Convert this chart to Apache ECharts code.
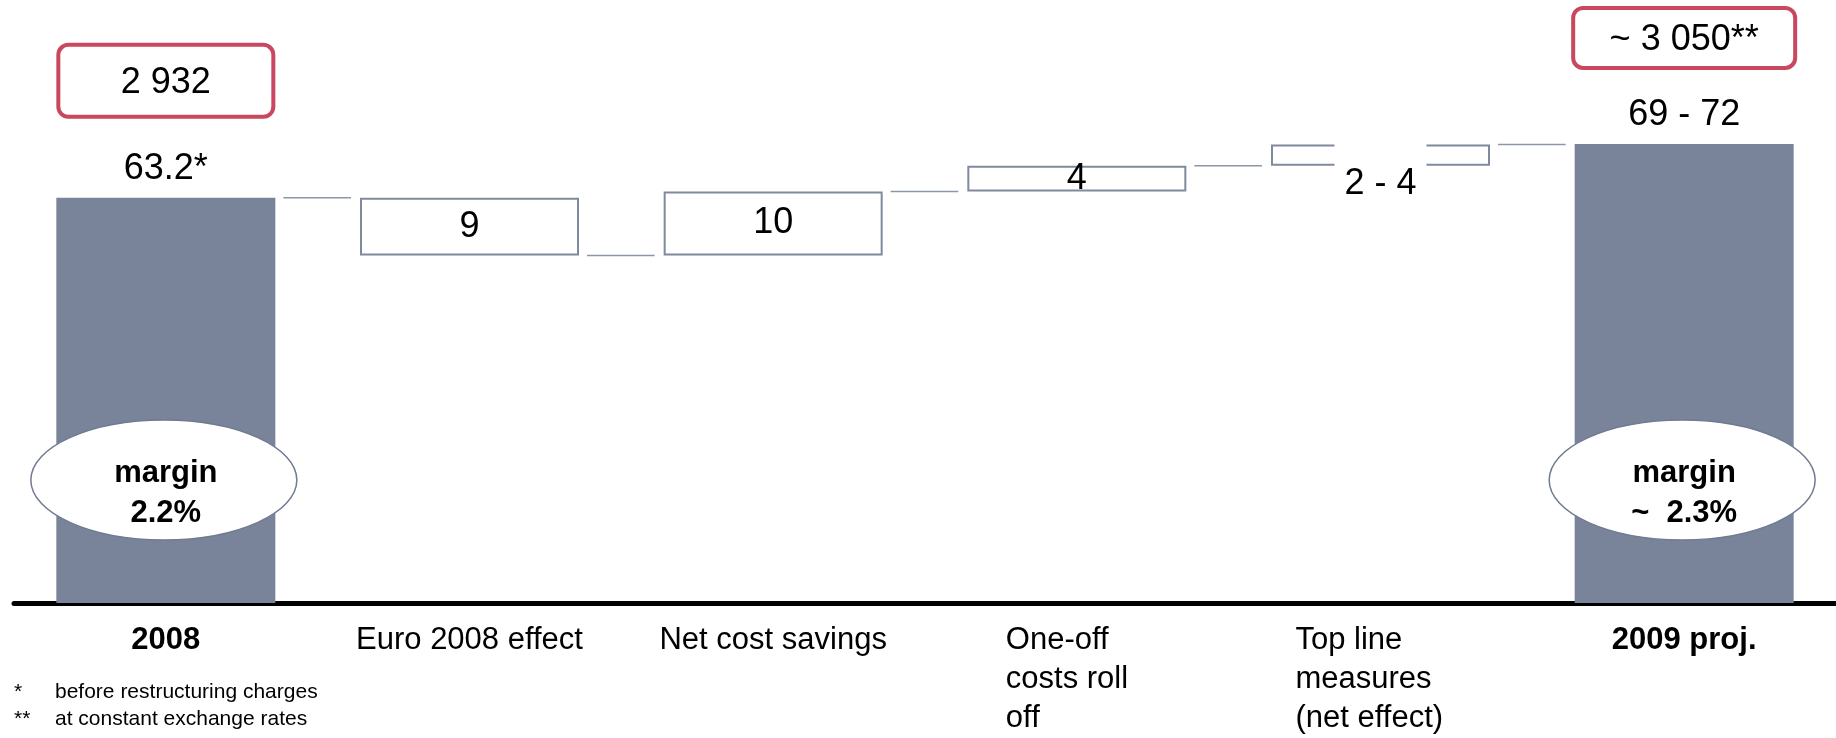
<!DOCTYPE html>
<html>
<head>
<meta charset="utf-8">
<title>EBIT bridge 2008 - 2009</title>
<script src="https://cdn.jsdelivr.net/npm/echarts@6/dist/echarts.min.js"></script>
<style>
    html, body { margin: 0; padding: 0; background: #fff; }
    #mychart { width: 1836px; height: 738px; }
</style>
</head>
<body>
<div id="mychart"></div>
<script>
// 数据
var categories = ['2008', 'Euro 2008 effect', 'Net cost savings', 'One-off\ncosts roll\noff', 'Top line\nmeasures\n(net effect)', '2009 proj.'];
var totals = [63.2, '-', '-', '-', '-', 71.6];
var totalLabels = ['63.2*', '', '', '', '', '69 - 72'];
var deltas = ['-', -9, 10, 4, 3.3, '-'];
var deltaLabels = ['', '9', '10', '4', '2 - 4', ''];
var revenue = ['2 932', '', '', '', '', '~ 3 050**'];
var margins = ['margin\n2.2%', '', '', '', '', 'margin\n~  2.3%'];
var footMarks = ['*', '**'];
var footnotes = ['before restructuring charges', 'at constant exchange rates'];

var FONT = '"Liberation Sans", Arial, sans-serif';
var BAR_W = 219;
var GREY = '#79849a';
var LINE = '#7f8a9d';
var PINK = '#c9475f';

// 瀑布图：透明底座 + 变动量
var baseData = [];
var deltaData = [];
var connectors = [];
var rangeData = [];
var level = totals[0];
connectors.push([0, level]);
for (var i = 0; i < categories.length; i++) {
    if (deltas[i] === '-') {
        baseData.push('-');
        deltaData.push('-');
        continue;
    }
    var next = level + deltas[i];
    baseData.push(Math.min(level, next));
    var item = { value: Math.abs(deltas[i]) };
    if (deltaLabels[i].indexOf('-') > -1) {
        // 区间标签单独画，压在框的下沿
        item.label = { show: false };
        rangeData.push([i, Math.min(level, next), Math.max(level, next)]);
    }
    deltaData.push(item);
    level = next;
    if (i < categories.length - 2) connectors.push([i, level]);
}
connectors.push([categories.length - 2, level]);

var annotData = [];
for (var k = 0; k < categories.length; k++) {
    if (revenue[k]) annotData.push([k, totals[k]]);
}

var myChart = echarts.init(document.getElementById('mychart'));
myChart.setOption({
    animation: false,
    grid: {
        left: 14,
        right: 0,
        top: 26,
        bottom: 129
    },
    xAxis: {
        type: 'category',
        data: categories,
        axisTick: { show: false },
        axisLine: { lineStyle: { color: '#000', width: 5 } },
        axisLabel: {
            interval: 0,
            margin: 18,
            color: '#000',
            fontFamily: FONT,
            fontSize: 31,
            lineHeight: 39,
            formatter: function (value, idx) {
                if (idx === 0 || idx === categories.length - 1) {
                    return '{b|' + value + '}';
                }
                var lines = value.split('\n');
                if (lines.length > 1) {
                    return lines.map(function (l) { return '{w' + idx + '|' + l + '}'; }).join('\n');
                }
                return value;
            },
            rich: {
                b: { fontWeight: 'bold', fontSize: 31, lineHeight: 39, fontFamily: FONT, color: '#000' },
                w3: { width: 142, align: 'left', fontSize: 31, lineHeight: 39, fontFamily: FONT, color: '#000' },
                w4: { width: 170, align: 'left', fontSize: 31, lineHeight: 39, fontFamily: FONT, color: '#000' }
            }
        }
    },
    yAxis: {
        type: 'value',
        show: false,
        min: 0,
        max: 90
    },
    series: [
        {
            name: 'base',
            type: 'bar',
            stack: 'w',
            barWidth: BAR_W,
            itemStyle: { color: 'transparent' },
            data: baseData
        },
        {
            name: 'delta',
            type: 'bar',
            stack: 'w',
            barWidth: BAR_W,
            itemStyle: { color: '#fff', borderColor: LINE, borderWidth: 2 },
            label: {
                show: true,
                position: 'inside',
                color: '#000',
                fontFamily: FONT,
                fontSize: 36,
                lineHeight: 30,
                formatter: function (p) { return deltaLabels[p.dataIndex]; }
            },
            data: deltaData
        },
        {
            name: 'total',
            type: 'bar',
            stack: 'w',
            barWidth: BAR_W,
            itemStyle: { color: GREY },
            label: {
                show: true,
                position: 'top',
                distance: 11,
                color: '#000',
                fontFamily: FONT,
                fontSize: 36,
                lineHeight: 36,
                formatter: function (p) { return totalLabels[p.dataIndex]; }
            },
            data: totals
        },
        {
            // 连接线
            name: 'connector',
            type: 'custom',
            silent: true,
            data: connectors,
            renderItem: function (params, api) {
                var p1 = api.coord([api.value(0), api.value(1)]);
                var p2 = api.coord([api.value(0) + 1, api.value(1)]);
                return {
                    type: 'line',
                    shape: { x1: p1[0] + BAR_W / 2 + 8, y1: p1[1], x2: p2[0] - BAR_W / 2 - 9, y2: p1[1] },
                    style: { stroke: '#8d96a8', lineWidth: 1.5 }
                };
            }
        },
        {
            // 区间标签（白底遮住框线）
            name: 'range',
            type: 'custom',
            silent: true,
            z: 5,
            data: rangeData,
            renderItem: function (params, api) {
                var idx = api.value(0);
                var lo = api.coord([idx, api.value(1)]);
                var hi = api.coord([idx, api.value(2)]);
                return {
                    type: 'group',
                    children: [
                        {
                            type: 'rect',
                            shape: { x: lo[0] - 46, y: hi[1] - 4, width: 92, height: lo[1] - hi[1] + 36 },
                            style: { fill: '#fff' }
                        },
                        {
                            type: 'text',
                            style: {
                                text: deltaLabels[idx],
                                x: lo[0], y: lo[1] + 18,
                                align: 'center', verticalAlign: 'middle',
                                fill: '#000', font: '36px ' + FONT
                            }
                        }
                    ]
                };
            }
        },
        {
            // 营收框 + 利润率椭圆
            name: 'annot',
            type: 'custom',
            silent: true,
            z: 10,
            data: annotData,
            renderItem: function (params, api) {
                var idx = api.value(0);
                var top = api.coord([idx, api.value(1)]);
                var zero = api.coord([idx, 0]);
                var first = idx === 0;
                var boxH = first ? 72 : 60;
                var boxBottom = top[1] - (first ? 81 : 76);
                var boxW = first ? 215 : 222;
                var cx = top[0];
                var cy = zero[1] - 123;
                return {
                    type: 'group',
                    children: [
                        {
                            type: 'rect',
                            shape: { x: cx - boxW / 2, y: boxBottom - boxH, width: boxW, height: boxH, r: 10 },
                            style: { fill: '#fff', stroke: PINK, lineWidth: 4 }
                        },
                        {
                            type: 'text',
                            style: {
                                text: revenue[idx],
                                x: cx, y: boxBottom - boxH / 2 + 2,
                                align: 'center', verticalAlign: 'middle',
                                fill: '#000', font: '36px ' + FONT
                            }
                        },
                        {
                            type: 'ellipse',
                            shape: { cx: cx - 2, cy: cy, rx: 133, ry: 60 },
                            style: { fill: '#fff', stroke: '#6f7b91', lineWidth: 1.5 }
                        },
                        {
                            type: 'text',
                            style: {
                                text: margins[idx],
                                x: cx, y: cy + 13,
                                align: 'center', verticalAlign: 'middle',
                                fill: '#000', font: 'bold 31px ' + FONT,
                                lineHeight: 40
                            }
                        }
                    ]
                };
            }
        }
    ],
    graphic: footnotes.map(function (t, n) {
        return {
            type: 'group',
            left: 14,
            top: 682 + n * 27,
            children: [
                { type: 'text', x: 0, y: 0, style: { text: footMarks[n], fill: '#000', font: '21px ' + FONT } },
                { type: 'text', x: 41, y: 0, style: { text: t, fill: '#000', font: '21px ' + FONT } }
            ]
        };
    })
});
</script>
</body>
</html>
